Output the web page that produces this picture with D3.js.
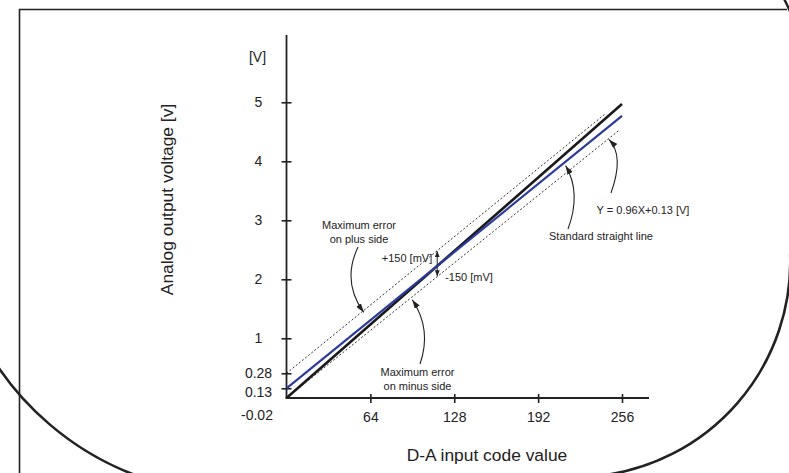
<!DOCTYPE html>
<html>
<head>
<meta charset="utf-8">
<script src="https://d3js.org/d3.v7.min.js"></script>
<style>
  body { margin: 0; background: #fff; }
  svg { display: block; font-family: "Liberation Sans", Arial, sans-serif; }
</style>
</head>
<body>
<div id="chart"></div>
<script>
// chart values
var xTicks = [64, 128, 192, 256];
var yTicks = [0.13, 0.28, 1, 2, 3, 4, 5];
var yOriginLabel = "-0.02";

// each line is given by its two end points (code, volts)
var actualCode = [0, 256],  actualVolt = [-0.02, 4.97];   // black
var stdCode    = [0, 256],  stdVolt    = [0.13, 4.77];    // blue, standard straight line
var plusCode   = [0, 243],  plusVolt   = [0.28, 4.80];    // +150 mV limit
var minusCode  = [0, 254],  minusVolt  = [-0.02, 4.53];   // -150 mV limit

var W = 789, H = 473;
var svg = d3.select("#chart").append("svg").attr("width", W).attr("height", H);

var x = d3.scaleLinear().domain([0, 256]).range([286.5, 622]);
// the bottom of the voltage axis is stretched, as in the drawing
var y = d3.scaleLinear().domain([-0.02, 0.13, 0.28, 1, 5]).range([398, 388.3, 373.3, 338.3, 102.3]);

var ink = "#222";

// markers
var defs = svg.append("defs");
defs.append("marker").attr("id", "arr").attr("markerUnits", "userSpaceOnUse")
  .attr("markerWidth", 9).attr("markerHeight", 6).attr("refX", 9).attr("refY", 3)
  .attr("orient", "auto")
  .append("path").attr("d", "M0,0 L9,3 L0,6 Z").attr("fill", ink);
defs.append("marker").attr("id", "arrS").attr("markerUnits", "userSpaceOnUse")
  .attr("markerWidth", 6).attr("markerHeight", 5).attr("refX", 6).attr("refY", 2.5)
  .attr("orient", "auto")
  .append("path").attr("d", "M0,0 L6,2.5 L0,5 Z").attr("fill", ink);

// frame + magnifier arcs
svg.append("path").attr("d", "M19.5,480 L19.5,9.5 L787,9.5")
  .attr("fill", "none").attr("stroke", ink).attr("stroke-width", 1.6);
svg.append("path").attr("d", "M783,-3 Q787,4 792,16")
  .attr("fill", "none").attr("stroke", ink).attr("stroke-width", 2.4);
var rArc = d3.path();
rArc.arc(574.7, 261.6, 215.6, -2 * Math.PI / 180, 84 * Math.PI / 180);
svg.append("path").attr("d", rArc.toString())
  .attr("fill", "none").attr("stroke", ink).attr("stroke-width", 2.6);
var lArc = d3.path();
lArc.arc(237, 205, 288.5, 103 * Math.PI / 180, 158 * Math.PI / 180);
svg.append("path").attr("d", lArc.toString())
  .attr("fill", "none").attr("stroke", ink).attr("stroke-width", 2.6);

// axes
var xAxis = d3.axisBottom(x).tickValues(xTicks).tickSize(0).tickPadding(14);
var gx = svg.append("g").attr("transform", "translate(0," + y(-0.02) + ")").call(xAxis);
gx.select(".domain").remove();
gx.selectAll(".tick line").attr("y1", -4).attr("y2", 5).attr("stroke", ink).attr("stroke-width", 1.6);
gx.selectAll(".tick text").attr("font-size", 14).attr("fill", ink).attr("font-family", null);

var yAxis = d3.axisLeft(y).tickValues(yTicks).tickSize(0).tickFormat(function (d) { return String(d); });
var gy = svg.append("g").attr("transform", "translate(" + x(0) + ",0)").call(yAxis);
gy.select(".domain").remove();
gy.selectAll(".tick line").attr("x1", -5).attr("x2", 5).attr("stroke", ink).attr("stroke-width", 1.6);
gy.selectAll(".tick text").attr("font-size", 14).attr("fill", ink).attr("font-family", null)
  .attr("text-anchor", "middle").attr("x", -28)
  .attr("dy", function (d) { return d === 0.13 ? "0.62em" : "0.32em"; });

svg.append("line").attr("x1", x(0)).attr("x2", x(0)).attr("y1", 35).attr("y2", y(-0.02) + 0.8)
  .attr("stroke", ink).attr("stroke-width", 1.8);
svg.append("line").attr("x1", x(0) - 0.8).attr("x2", 649).attr("y1", y(-0.02)).attr("y2", y(-0.02))
  .attr("stroke", ink).attr("stroke-width", 1.8);

svg.append("text").attr("x", x(0) - 29.5).attr("y", y(-0.02) + 22).attr("text-anchor", "middle")
  .attr("font-size", 14).attr("fill", ink).text(yOriginLabel);
svg.append("text").attr("x", x(0) - 29).attr("y", 61.5).attr("text-anchor", "middle")
  .attr("font-size", 14).attr("fill", ink).text("[V]");

svg.append("text").attr("x", 487).attr("y", 461).attr("text-anchor", "middle")
  .attr("font-size", 17.4).attr("fill", ink).text("D-A input code value");
svg.append("text").attr("transform", "translate(173,199.5) rotate(-90)").attr("text-anchor", "middle")
  .attr("font-size", 17.4).attr("fill", ink).text("Analog output voltage [v]");

// lines
function pts(c, v) { return c.map(function (d, i) { return [x(d), y(v[i])]; }); }
var line = d3.line();
svg.append("path").attr("d", line(pts(plusCode, plusVolt))).attr("fill", "none")
  .attr("stroke", "#333").attr("stroke-width", 1).attr("stroke-dasharray", "2,2");
svg.append("path").attr("d", line(pts(minusCode, minusVolt))).attr("fill", "none")
  .attr("stroke", "#333").attr("stroke-width", 1).attr("stroke-dasharray", "2,2");
svg.append("path").attr("d", line(pts(actualCode, actualVolt))).attr("fill", "none")
  .attr("stroke", "#1a1a1a").attr("stroke-width", 2.6);
svg.append("path").attr("d", line(pts(stdCode, stdVolt))).attr("fill", "none")
  .attr("stroke", "#2b3b9b").attr("stroke-width", 2.2);

// pixel y of a line at a given code
function yAt(c, v, code) {
  var p = pts(c, v);
  var t = (x(code) - p[0][0]) / (p[1][0] - p[0][0]);
  return p[0][1] + t * (p[1][1] - p[0][1]);
}

// annotations
function label(lines, cx, y0, step, anchor) {
  lines.forEach(function (s, i) {
    svg.append("text").attr("x", cx).attr("y", y0 + i * step).attr("text-anchor", anchor || "middle")
      .attr("font-size", 11).attr("fill", ink).text(s);
  });
}
function curve(x0, y0, cx, cy, code, yLine, off) {
  var tx = x(code), ty = yLine + off;
  svg.append("path").attr("d", "M" + x0 + "," + y0 + " Q" + cx + "," + cy + " " + tx + "," + ty)
    .attr("fill", "none").attr("stroke", ink).attr("stroke-width", 1.1).attr("marker-end", "url(#arr)");
}

label(["Maximum error", "on plus side"], 359, 228.5, 14);
curve(358, 247, 341.5, 282, 59, yAt(plusCode, plusVolt, 59), 2);

label(["Maximum error", "on minus side"], 417.5, 375.5, 14.5);
curve(420, 364, 432, 329.5, 96, yAt(minusCode, minusVolt, 96), 3);

label(["Standard straight line"], 601, 239.5, 0);
curve(568, 229, 581.5, 193, 213, yAt(stdCode, stdVolt, 213), 4);

label(["Y = 0.96X+0.13 [V]"], 643, 214, 0);
curve(611, 193, 624.5, 155.5, 246, yAt(minusCode, minusVolt, 246), 1);

// +-150 mV arrows
var cMid = 115, yb = yAt(stdCode, stdVolt, cMid);
svg.append("line").attr("x1", x(cMid)).attr("x2", x(cMid)).attr("y1", yb - 1)
  .attr("y2", yAt(plusCode, plusVolt, cMid) + 0.5)
  .attr("stroke", ink).attr("stroke-width", 1).attr("marker-end", "url(#arrS)");
svg.append("line").attr("x1", x(cMid)).attr("x2", x(cMid)).attr("y1", yb + 1)
  .attr("y2", yAt(minusCode, minusVolt, cMid) - 0.5)
  .attr("stroke", ink).attr("stroke-width", 1).attr("marker-end", "url(#arrS)");
label(["+150 [mV]"], x(cMid) - 5, 262, 0, "end");
label(["-150 [mV]"], x(cMid) + 8, 281, 0, "start");
</script>
</body>
</html>
